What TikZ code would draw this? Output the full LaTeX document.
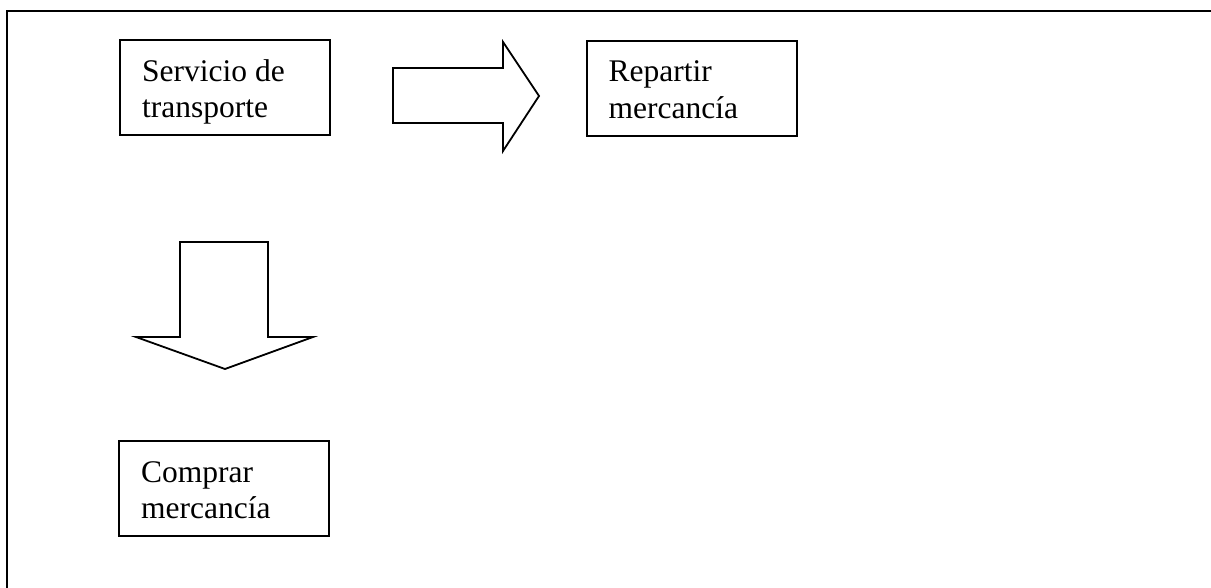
\documentclass[tikz,border=0pt]{standalone}
\usepackage{fontspec}
\setmainfont{Liberation Serif}
\usetikzlibrary{calc}
\begin{document}
\begin{tikzpicture}[x=1pt,y=-1pt,
  stepbox/.style={draw,line width=2pt,minimum width=210pt,minimum height=95pt,inner sep=0pt,outer sep=0pt},
  boxtext/.style={anchor=base west,align=left,inner sep=0pt,font=\fontsize{31.5}{36.5}\selectfont},
  blockarrow/.style={draw,line width=1.8pt,line join=miter,fill=white}]
\useasboundingbox (0,0) rectangle (1211,588);
% page frame, open at right and bottom
\draw[line width=2pt] (7,588) -- (7,11) -- (1211,11);
% boxes
\node[stepbox] (serv) at (225,87.5) {};
\node[stepbox] (rep)  at (691.5,88.5) {};
\node[stepbox] (comp) at (224,488.5) {};
% box texts (base anchor sits on the last line)
\node[boxtext] (servt) at ($(serv.north west)+(22,78)$) {Servicio de\\transporte};
\node[boxtext] (rept)  at ($(rep.north west)+(22,77.5)$) {Repartir\\mercancía};
\node[boxtext] (compt) at ($(comp.north west)+(22,77.5)$) {Comprar\\mercancía};
% right block arrow
\draw[blockarrow] (393,68) -- (503,68) -- (503,42) -- (539,96) -- (503,151) -- (503,123) -- (393,123) -- cycle;
% down block arrow
\draw[blockarrow] (180,242) -- (268,242) -- (268,337) -- (313,337) -- (225,369) -- (136,337) -- (180,337) -- cycle;
\end{tikzpicture}
\end{document}
